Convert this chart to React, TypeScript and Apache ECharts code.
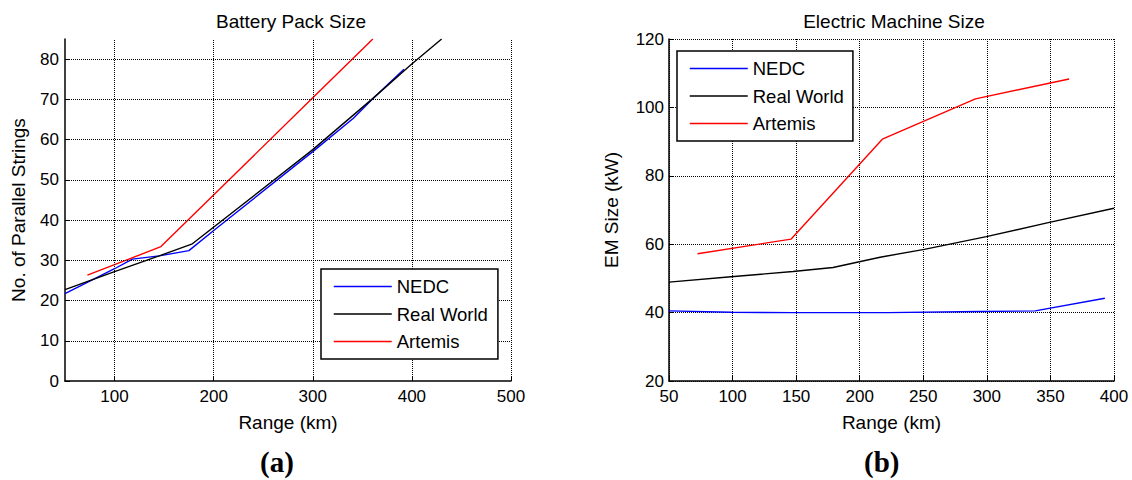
import React, { useEffect, useRef } from "react";
import * as echarts from "echarts";

// ---- Data ----
const seriesNames = ["NEDC", "Real World", "Artemis"];
const seriesColors = ["#0000ff", "#000000", "#ff0000"];

// (a) Battery pack size: [range km, no. of parallel strings]
const batteryNEDC = [[50, 21.7], [100, 27.9], [118, 30.3], [145, 31.1], [175, 32.4], [201, 37.6], [300, 57], [341, 65.3], [361, 70.3], [392, 77.5]];
const batteryRealWorld = [[50, 22.7], [100, 27.2], [145, 31.1], [178.5, 34.1], [300, 57.5], [361, 70.3], [399, 78.6], [430, 85]];
const batteryArtemis = [[72.6, 26.3], [100, 28.9], [146.8, 33.4], [300, 70.4], [360.6, 85]];
const batteryXTicks = [100, 200, 300, 400, 500];
const batteryYTicks = [0, 10, 20, 30, 40, 50, 60, 70, 80];

// (b) Electric machine size: [range km, kW]
const emNEDC = [[50, 40.5], [99, 40.1], [147.5, 40], [222, 40], [294, 40.3], [338, 40.5], [392.8, 44.2]];
const emRealWorld = [[50, 48.9], [98.8, 50.5], [147.5, 52], [179, 53.2], [216, 56.2], [250.8, 58.5], [299.6, 62.2], [348.3, 66.3], [400, 70.5]];
const emArtemis = [[72.4, 57.2], [146.1, 61.5], [217.8, 90.7], [291, 102.5], [364.7, 108.3]];

const FONT = "'Liberation Sans', Arial, Helvetica, sans-serif";
const SERIF = "'Liberation Serif', 'Times New Roman', serif";

export default function App() {
  const ref = useRef<HTMLDivElement>(null);

  useEffect(() => {
    if (!ref.current) return;
    const chart = echarts.init(ref.current, null, { renderer: "svg" });

    const dotted = { color: "#000", width: 1, type: [1, 1] as any };
    const axisLineStyle = { lineStyle: { color: "#000", width: 1.5 } };
    const tickLabel = { color: "#000", fontSize: 17, fontFamily: FONT };
    const nameStyle = { color: "#000", fontSize: 19, fontFamily: FONT };

    const mkLine = (name: string, data: number[][], idx: number, color: string) => ({
      name,
      type: "line",
      xAxisIndex: idx,
      yAxisIndex: idx,
      data,
      symbol: "none",
      showSymbol: false,
      clip: true,
      z: 3,
      lineStyle: { color, width: 1.4 },
      itemStyle: { color },
    });

    const legendCommon = {
      orient: "vertical",
      data: seriesNames,
      selectedMode: false,
      itemWidth: 58,
      itemHeight: 18,
      itemGap: 8.5,
      itemStyle: { opacity: 0 },
      lineStyle: { width: 1.5 },
      backgroundColor: "#fff",
      borderColor: "#000",
      borderWidth: 1.5,
      borderRadius: 0,
      textStyle: { color: "#000", fontSize: 18.5, fontFamily: FONT },
      z: 10,
    };

    chart.setOption({
      animation: false,
      backgroundColor: "#fff",
      textStyle: { fontFamily: FONT },
      title: [
        {
          text: "Battery Pack Size",
          left: 286,
          top: 7,
          textAlign: "center",
          textStyle: { color: "#000", fontSize: 19, fontWeight: "normal", fontFamily: FONT },
        },
        {
          text: "Electric Machine Size",
          left: 889,
          top: 7,
          textAlign: "center",
          textStyle: { color: "#000", fontSize: 19, fontWeight: "normal", fontFamily: FONT },
        },
      ],
      legend: [
        { ...legendCommon, left: 321, top: 269, padding: [8, 10, 8, 12] },
        { ...legendCommon, left: 677, top: 51, padding: [8, 9, 8, 12] },
      ],
      grid: [
        { left: 65, top: 39, width: 446, height: 342, containLabel: false },
        { left: 669, top: 39, width: 445, height: 342, containLabel: false },
      ],
      xAxis: [
        {
          type: "value",
          gridIndex: 0,
          min: 50,
          max: 500,
          name: "Range (km)",
          nameLocation: "middle",
          nameGap: 32,
          nameTextStyle: nameStyle,
          axisLine: axisLineStyle,
          axisTick: { inside: true, length: 5, lineStyle: { color: "#000" }, customValues: batteryXTicks },
          axisLabel: { ...tickLabel, margin: 7, customValues: batteryXTicks },
          splitLine: { show: false },
        },
        {
          type: "value",
          gridIndex: 1,
          min: 50,
          max: 400,
          interval: 50,
          name: "Range (km)",
          nameLocation: "middle",
          nameGap: 32,
          nameTextStyle: nameStyle,
          axisLine: axisLineStyle,
          axisTick: { inside: true, length: 5, lineStyle: { color: "#000" } },
          axisLabel: { ...tickLabel, margin: 7 },
          splitLine: { show: true, lineStyle: dotted },
        },
      ],
      yAxis: [
        {
          type: "value",
          gridIndex: 0,
          min: 0,
          max: 85,
          name: "No. of Parallel Strings",
          nameLocation: "middle",
          nameGap: 37,
          nameTextStyle: nameStyle,
          axisLine: { show: true, ...axisLineStyle },
          axisTick: { show: true, inside: true, length: 5, lineStyle: { color: "#000" }, customValues: batteryYTicks },
          axisLabel: { ...tickLabel, margin: 6, customValues: batteryYTicks },
          splitLine: { show: false },
        },
        {
          type: "value",
          gridIndex: 1,
          min: 20,
          max: 120,
          interval: 20,
          name: "EM Size (kW)",
          nameLocation: "middle",
          nameGap: 48,
          nameTextStyle: nameStyle,
          axisLine: { show: true, ...axisLineStyle },
          axisTick: { show: true, inside: true, length: 5, lineStyle: { color: "#000" } },
          axisLabel: { ...tickLabel, margin: 5 },
          splitLine: { show: true, lineStyle: dotted },
        },
      ],
      series: [
        {
          name: "_grid",
          type: "line",
          xAxisIndex: 0,
          yAxisIndex: 0,
          data: [],
          z: 1,
          silent: true,
          markLine: {
            silent: true,
            symbol: "none",
            label: { show: false },
            lineStyle: dotted,
            emphasis: { disabled: true },
            data: [
              ...batteryXTicks.map((v) => ({ xAxis: v })),
              ...batteryYTicks.filter((v) => v > 0).map((v) => ({ yAxis: v })),
            ],
          },
        },
        mkLine(seriesNames[0], batteryNEDC, 0, seriesColors[0]),
        mkLine(seriesNames[1], batteryRealWorld, 0, seriesColors[1]),
        mkLine(seriesNames[2], batteryArtemis, 0, seriesColors[2]),
        mkLine(seriesNames[0], emNEDC, 1, seriesColors[0]),
        mkLine(seriesNames[1], emRealWorld, 1, seriesColors[1]),
        mkLine(seriesNames[2], emArtemis, 1, seriesColors[2]),
      ],
      graphic: [
        {
          type: "text",
          left: 278 - 18,
          top: 447,
          style: { text: "(a)", fill: "#000", font: `bold 29px ${SERIF}` },
        },
        {
          type: "text",
          left: 882 - 18,
          top: 447,
          style: { text: "(b)", fill: "#000", font: `bold 29px ${SERIF}` },
        },
      ],
    });

    return () => chart.dispose();
  }, []);

  return (
    <div
      ref={ref}
      style={{ position: "absolute", left: 0, top: 0, width: 1132, height: 480, background: "#fff" }}
    />
  );
}
